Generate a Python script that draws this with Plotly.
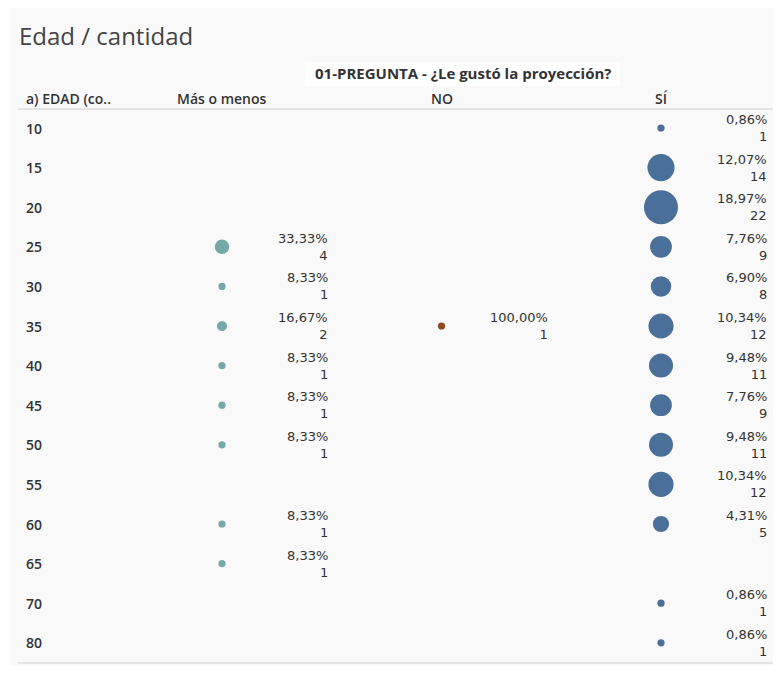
import plotly.graph_objects as go

# ---- data ----
ages = ["10", "15", "20", "25", "30", "35", "40", "45", "50", "55", "60", "65", "70", "80"]
columns = ["Más o menos", "NO", "SÍ"]

mas_o_menos_ages = ["25", "30", "35", "40", "45", "50", "60", "65"]
mas_o_menos_counts = [4, 1, 2, 1, 1, 1, 1, 1]
mas_o_menos_pct = [33.33, 8.33, 16.67, 8.33, 8.33, 8.33, 8.33, 8.33]

no_ages = ["35"]
no_counts = [1]
no_pct = [100.00]

si_ages = ["10", "15", "20", "25", "30", "35", "40", "45", "50", "55", "60", "70", "80"]
si_counts = [1, 14, 22, 9, 8, 12, 11, 9, 11, 12, 5, 1, 1]
si_pct = [0.86, 12.07, 18.97, 7.76, 6.90, 10.34, 9.48, 7.76, 9.48, 10.34, 4.31, 0.86, 0.86]

colors = {"Más o menos": "#76a8a7", "NO": "#8a4b1d", "SÍ": "#4a6f98"}

series = [
    ("Más o menos", mas_o_menos_ages, mas_o_menos_counts, mas_o_menos_pct),
    ("NO", no_ages, no_counts, no_pct),
    ("SÍ", si_ages, si_counts, si_pct),
]

OFF = 8  # page body margin
W, H = 765, 658
NUM_FONT = "DejaVu Sans"
HDR_FONT = "Open Sans"
TXT = "#333333"


def px(v):
    return (v - OFF) / W


def py(v):
    return 1 - (v - OFF) / H


fig = go.Figure()
annotations = []

for name, a, c, p in series:
    fig.add_trace(go.Scatter(
        x=[name] * len(a), y=a, mode="markers",
        marker=dict(size=c, sizemode="area", sizeref=2 / 52.5, color=colors[name],
                    line=dict(width=0), opacity=1),
        showlegend=False, hoverinfo="skip",
    ))
    ci = columns.index(name)
    for age, cnt, pct in zip(a, c, p):
        annotations.append(dict(
            x=ci, y=ages.index(age), xref="x", yref="y",
            text=f"{pct:.2f}".replace(".", ",") + f"%<br>{cnt}",
            xanchor="right", yanchor="middle", xshift=108, yshift=0, align="right",
            showarrow=False, font=dict(family=NUM_FONT, size=13, color=TXT),
        ))

# row labels
for i, age in enumerate(ages):
    annotations.append(dict(
        x=px(24), y=i, xref="paper", yref="y", text=age, xanchor="left", yanchor="middle",
        showarrow=False, font=dict(family=HDR_FONT, size=14, color=TXT, weight=600),
    ))

# column headers
hdr_y = py(98)
annotations.append(dict(
    x=px(24), y=hdr_y, xref="paper", yref="paper", text="a) EDAD (co..", xanchor="left",
    yanchor="middle", showarrow=False, font=dict(family=HDR_FONT, size=14, color=TXT, weight=600)))
for ci, name in enumerate(columns):
    annotations.append(dict(
        x=ci, y=hdr_y, xref="x", yref="paper", text=name, xanchor="center", yanchor="middle",
        showarrow=False, font=dict(family=HDR_FONT, size=14, color=TXT, weight=600)))

# super header
annotations.append(dict(
    x=px(463), y=py(73), xref="paper", yref="paper",
    text="01-PREGUNTA - ¿Le gustó la proyección?", xanchor="center", yanchor="middle",
    showarrow=False, font=dict(family=HDR_FONT, size=15, color=TXT, weight=700)))

# title
annotations.append(dict(
    x=px(17), y=py(35), xref="paper", yref="paper", text="Edad / cantidad",
    xanchor="left", yanchor="middle", showarrow=False,
    font=dict(family=HDR_FONT, size=24, color="#444444")))

shapes = [
    dict(type="rect", xref="paper", yref="paper", x0=px(11), x1=px(773), y0=0, y1=py(8),
         fillcolor="#f9f9f9", line=dict(width=0), layer="below"),
    dict(type="rect", xref="paper", yref="paper", x0=px(305), x1=px(620), y0=py(86), y1=py(62),
         fillcolor="#ffffff", line=dict(width=0), layer="below"),
    dict(type="line", xref="paper", yref="paper", x0=px(18), x1=px(775), y0=py(109), y1=py(109),
         line=dict(color="#dcdcdc", width=1.5)),
    dict(type="line", xref="paper", yref="paper", x0=px(18), x1=px(773), y0=py(663), y1=py(663),
         line=dict(color="#dcdcdc", width=1.5)),
]

# axis scale: column 0 at x=222px, 219.5 px per column; row 0 at y=128px, 39.6 px per row
px_per_col = 219.5
x0 = -(222 - OFF) / px_per_col
px_per_row = 39.6
y0 = -(128 - OFF) / px_per_row

fig.update_layout(
    width=W, height=H, margin=dict(l=0, r=0, t=0, b=0),
    paper_bgcolor="#ffffff", plot_bgcolor="rgba(0,0,0,0)",
    xaxis=dict(type="category", categoryorder="array", categoryarray=columns,
               range=[x0, x0 + W / px_per_col], visible=False, fixedrange=True),
    yaxis=dict(type="category", categoryorder="array", categoryarray=ages,
               range=[y0 + H / px_per_row, y0], visible=False, fixedrange=True),
    annotations=annotations, shapes=shapes,
)

fig.write_html("out.html")
